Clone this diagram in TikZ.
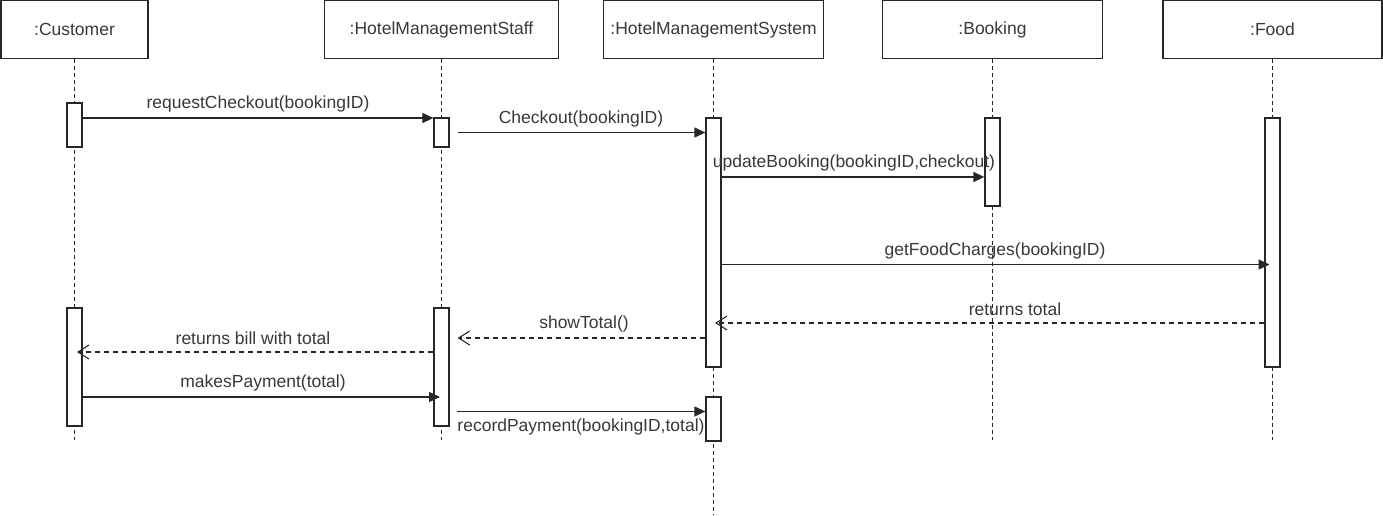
\documentclass[tikz,border=0pt]{standalone}
\usepackage{fontspec}
\setmainfont{Liberation Sans}
\usetikzlibrary{arrows.meta,calc}
\begin{document}
\begin{tikzpicture}[x=1pt,y=-1pt,
  headbox/.style={draw=black!85, line width=1.3pt, minimum height=58pt, inner sep=0pt, font=\fontsize{17.5}{21}\selectfont, text=black!78},
  lifeline/.style={draw=black!85, line width=1.3pt, dash pattern=on 4pt off 3pt},
  actbar/.style={draw=black!85, fill=white, line width=1.3pt, minimum width=15pt, inner sep=0pt},
  msg/.style={draw=black!85, line width=1.3pt, -{Triangle[length=11pt,width=10pt]}},
  ret/.style={draw=black!85, line width=1.1pt, dash pattern=on 5pt off 4pt, -{Straight Barb[length=11pt,width=14pt,line width=1.1pt]}},
  lbl/.style={font=\fontsize{17.5}{21}\selectfont, text=black!78, inner sep=0pt}
]
\useasboundingbox (0,0) rectangle (1383,515);

% headers
\node[headbox, minimum width=147pt] (cust) at (74.5,29.5) {:Customer};
\node[headbox, minimum width=234pt] (staff) at (441.5,29.5) {:HotelManagementStaff};
\node[headbox, minimum width=220pt] (sys) at (713.5,29.5) {:HotelManagementSystem};
\node[headbox, minimum width=220pt] (book) at (992.5,29.5) {:Booking};
\node[headbox, minimum width=219pt] (food) at (1272.5,29.5) {:Food};

% lifeline ends
\coordinate (custEnd) at (74.5,440);
\coordinate (staffEnd) at (441.5,440);
\coordinate (sysEnd) at (713.5,515);
\coordinate (bookEnd) at (992.5,440);
\coordinate (foodEnd) at (1272.5,440);

\draw[lifeline] (cust.south) -- (custEnd);
\draw[lifeline] (staff.south) -- (staffEnd);
\draw[lifeline] (sys.south) -- (sysEnd);
\draw[lifeline] (book.south) -- (bookEnd);
\draw[lifeline] (food.south) -- (foodEnd);

% activation bars
\node[actbar, minimum height=44pt] (custA1) at (74.5,125) {};
\node[actbar, minimum height=118pt] (custA2) at (74.5,367) {};
\node[actbar, minimum height=29pt] (staffA1) at (441.5,132.5) {};
\node[actbar, minimum height=118pt] (staffA2) at (441.5,367) {};
\node[actbar, minimum height=249pt] (sysA1) at (713.5,242.5) {};
\node[actbar, minimum height=44pt] (sysA2) at (713.5,419) {};
\node[actbar, minimum height=88pt] (bookA1) at (992.5,162) {};
\node[actbar, minimum height=249pt] (foodA1) at (1272.5,242.5) {};

% message levels
\coordinate (y1) at (0,118);
\coordinate (y2) at (0,132.5);
\coordinate (y3) at (0,177);
\coordinate (y4) at (0,264.5);
\coordinate (y5) at (0,323);
\coordinate (y6) at (0,338);
\coordinate (y7) at (0,352);
\coordinate (y8) at (0,397);
\coordinate (y9) at (0,411.5);

% messages
\draw[msg] (custA1.east |- y1) -- (staffA1.west |- y1);
\draw[msg] ([xshift=8pt]staffA1.east |- y2) -- (sysA1.west |- y2);
\draw[msg] (sysA1.east |- y3) -- (bookA1.west |- y3);
\draw[msg] (sysA1.east |- y4) -- ([xshift=-3pt]foodA1.center |- y4);
\draw[ret] (foodA1.west |- y5) -- ([xshift=1.5pt]sysA1.center |- y5);
\draw[ret] (sysA1.west |- y6) -- ([xshift=8pt]staffA2.east |- y6);
\draw[ret] (staffA2.west |- y7) -- ([xshift=2.5pt]custA2.center |- y7);
\draw[msg] (custA2.east |- y8) -- ([xshift=-1.5pt]staffA2.center |- y8);
\draw[msg] ([xshift=7pt]staffA2.east |- y9) -- (sysA2.west |- y9);

% labels
\node[lbl] (l1) at (258,104) {requestCheckout(bookingID)};
\node[lbl] (l2) at (581,118.5) {Checkout(bookingID)};
\node[lbl] (l3) at (854,163) {updateBooking(bookingID,checkout)};
\node[lbl] (l4) at (995,251) {getFoodCharges(bookingID)};
\node[lbl] (l5) at (1015,309) {returns total};
\node[lbl] (l6) at (584,324) {showTotal()};
\node[lbl] (l7) at (253,338.5) {returns bill with total};
\node[lbl] (l8) at (263,383) {makesPayment(total)};
\node[lbl] (l9) at (581,427) {recordPayment(bookingID,total)};
\end{tikzpicture}
\end{document}
